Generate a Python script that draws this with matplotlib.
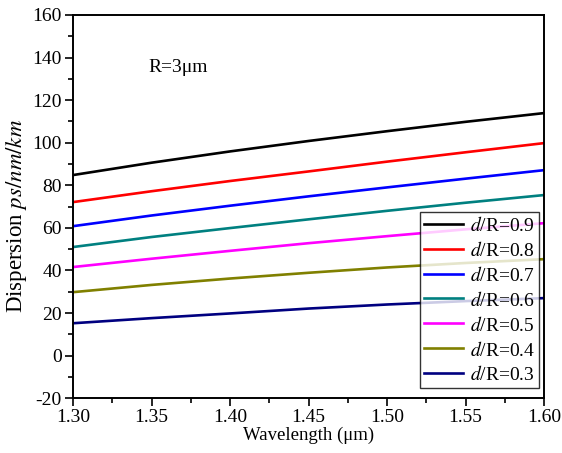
import numpy as np
import matplotlib
matplotlib.use('Agg')
import matplotlib.pyplot as plt
from matplotlib.ticker import MultipleLocator

plt.rcParams['font.family'] = ['Liberation Serif', 'DejaVu Serif']
plt.rcParams['mathtext.fontset'] = 'stix'
plt.rcParams['axes.unicode_minus'] = False

# wavelength (um)
wl = [1.30, 1.35, 1.40, 1.45, 1.50, 1.55, 1.60]

# dispersion (ps/nm/km) for each d/R
d09 = [84.8, 90.6, 95.9, 100.8, 105.4, 109.8, 113.9]
d08 = [72.1, 77.2, 82.0, 86.5, 91.1, 95.5, 99.8]
d07 = [60.8, 65.8, 70.4, 74.8, 79.0, 83.1, 87.1]
d06 = [51.0, 55.7, 59.9, 64.0, 68.0, 71.8, 75.4]
d05 = [41.6, 45.5, 49.2, 52.8, 56.1, 59.3, 62.2]
d04 = [29.8, 33.2, 36.2, 38.9, 41.4, 43.5, 45.3]
d03 = [15.2, 17.6, 19.8, 22.1, 24.0, 25.6, 27.0]

labels = ['0.9', '0.8', '0.7', '0.6', '0.5', '0.4', '0.3']
colors = ['black', 'red', 'blue', '#008080', '#ff00ff', '#808000', '#000080']
series = [d09, d08, d07, d06, d05, d04, d03]

fig = plt.figure(figsize=(5.62, 4.53), dpi=100)
ax = fig.add_axes([0.130, 0.121, 0.838, 0.846])

for s, c, lab in zip(series, colors, labels):
    ax.plot(wl, s, color=c, lw=1.9, label='$d$/R=' + lab)

ax.set_xlim(1.30, 1.60)
ax.set_ylim(-20, 160)
ax.xaxis.set_major_locator(MultipleLocator(0.05))
ax.xaxis.set_minor_locator(MultipleLocator(0.025))
ax.yaxis.set_major_locator(MultipleLocator(20))
ax.yaxis.set_minor_locator(MultipleLocator(10))
ax.set_xticklabels(['{:.2f}'.format(v) for v in ax.get_xticks()])

ax.tick_params(which='both', direction='out', labelsize=14, width=1.2,
               right=False, top=False)
ax.tick_params(which='major', length=6, pad=2)
ax.tick_params(which='minor', length=3.5)
for sp in ax.spines.values():
    sp.set_linewidth(1.4)

ax.set_xlabel('Wavelength (\u03bcm)', fontsize=13.5, labelpad=0)
ax.set_ylabel('Dispersion $ps/nm/km$', fontsize=16.5)
ax.yaxis.set_label_coords(-0.094, 0.475)

ax.text(1.348, 135.5, 'R=3\u03bcm', fontsize=14, va='center')

leg = ax.legend(loc='lower right', bbox_to_anchor=(0.989, 0.026),
                fontsize=14, frameon=True, fancybox=False,
                edgecolor='black', handlelength=2.0, labelspacing=0.3,
                borderaxespad=0, handletextpad=0.35, borderpad=0.2,
                handleheight=0.9)
leg.get_frame().set_linewidth(1.0)

plt.savefig('out.png', dpi=100)
